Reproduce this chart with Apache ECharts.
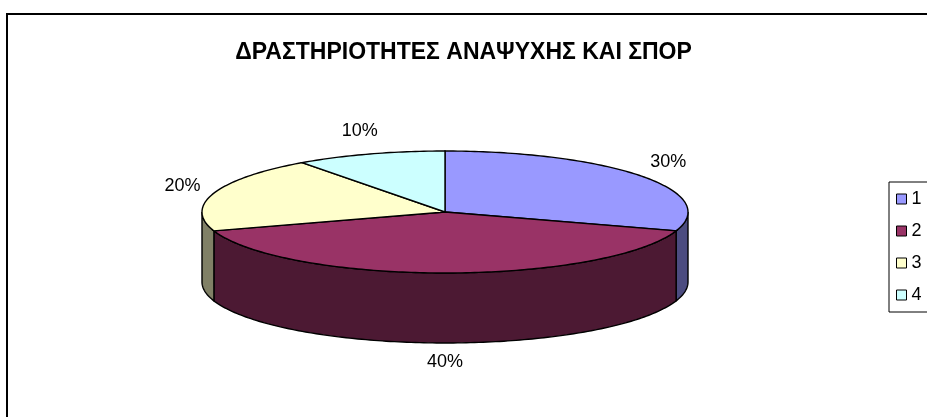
<!DOCTYPE html>
<html>
<head>
<meta charset="utf-8">
<script src="https://cdn.jsdelivr.net/npm/echarts@6/dist/echarts.min.js"></script>
<style>
  html, body { margin: 0; padding: 0; background: #fff; }
  #chart { width: 927px; height: 417px; }
</style>
</head>
<body>
<div id="chart"></div>
<script>
const titleText = 'ΔΡΑΣΤΗΡΙΟΤΗΤΕΣ ΑΝΑΨΥΧΗΣ ΚΑΙ ΣΠΟΡ';
const categories = ['1', '2', '3', '4'];
const values = [30, 40, 20, 10];
const topColors = ['#9999FF', '#993366', '#FFFFCC', '#CCFFFF'];
const sideColors = ['#4C4C80', '#4C1933', '#808066', '#668080'];

// geometry of the tilted pie
const CX = 445, CY = 212, RX = 243, RY = 61, DEPTH = 70;
const total = values.reduce((a, b) => a + b, 0);

function pt(deg, dy) {
  const r = deg * Math.PI / 180;
  return [CX + RX * Math.cos(r), CY - RY * Math.sin(r) + (dy || 0)];
}

function arc(a0, a1, dy) {
  // from a0 to a1, one point per degree
  const pts = [];
  const n = Math.max(2, Math.ceil(Math.abs(a0 - a1)));
  for (let i = 0; i <= n; i++) pts.push(pt(a0 + (a1 - a0) * i / n, dy));
  return pts;
}

function makeRender(k) {
  return function (params, api) {
    const v = api.value(0);
    let before = 0;
    for (let i = 0; i < k; i++) before += values[i];
    const start = 90 - 360 * before / total;   // clockwise from 12 o'clock
    const end = start - 360 * v / total;
    const children = [];

    // outer wall, only the front half shows
    for (let m = -1; m <= 1; m++) {
      const lo = Math.max(end, -180 + 360 * m);
      const hi = Math.min(start, 360 * m);
      if (hi - lo > 0.01) {
        const top = arc(hi, lo, 0);
        const bottom = arc(lo, hi, DEPTH);
        children.push({
          type: 'polygon',
          shape: { points: top.concat(bottom) },
          style: { fill: sideColors[k], stroke: '#000', lineWidth: 1.4 }
        });
      }
    }

    // top face
    children.push({
      type: 'polygon',
      shape: { points: [[CX, CY]].concat(arc(start, end, 0)) },
      style: { fill: topColors[k], stroke: '#000', lineWidth: 1.4 }
    });

    // percent label outside the slice
    const mid = (start + end) / 2 * Math.PI / 180;
    const s = Math.sin(mid);
    const lx = CX + (RX + 33) * Math.cos(mid);
    const ly = CY - (RY + 24) * s + (s < 0 ? DEPTH * -s - 5 : 0);
    children.push({
      type: 'text',
      x: lx, y: ly,
      style: {
        text: Math.round(v / total * 100) + '%',
        x: 0, y: 0,
        align: 'center', verticalAlign: 'middle',
        font: '18px "Liberation Sans", Arial, sans-serif',
        fill: '#000'
      }
    });
    return { type: 'group', children: children };
  };
}

const chart = echarts.init(document.getElementById('chart'));

const series = categories.map((name, k) => ({
  name: name,
  type: 'custom',
  coordinateSystem: 'none',
  itemStyle: { color: topColors[k], borderColor: '#000', borderWidth: 1 },
  renderItem: makeRender(k),
  data: [[values[k]]]
}));

chart.setOption({
  animation: false,
  title: {
    text: titleText,
    left: 'center',
    top: 41,
    padding: 0,
    textStyle: {
      fontFamily: '"Liberation Sans", Arial, sans-serif',
      fontWeight: 'bold',
      fontSize: 23,
      color: '#000'
    }
  },
  legend: {
    orient: 'vertical',
    left: 889,
    top: 182,
    data: categories,
    icon: 'rect',
    itemWidth: 10,
    itemHeight: 10,
    itemGap: 14,
    padding: [8, 20, 8, 7],
    borderColor: '#000',
    borderWidth: 1,
    borderRadius: 0,
    selectedMode: false,
    itemStyle: { borderColor: '#000', borderWidth: 1 },
    textStyle: {
      fontFamily: '"Liberation Sans", Arial, sans-serif',
      fontSize: 18,
      color: '#000'
    }
  },
  graphic: [{
    type: 'rect',
    shape: { x: 7, y: 14, width: 960, height: 440 },
    style: { fill: 'none', stroke: '#000', lineWidth: 2 },
    z: -1
  }],
  series: series
});
</script>
</body>
</html>
